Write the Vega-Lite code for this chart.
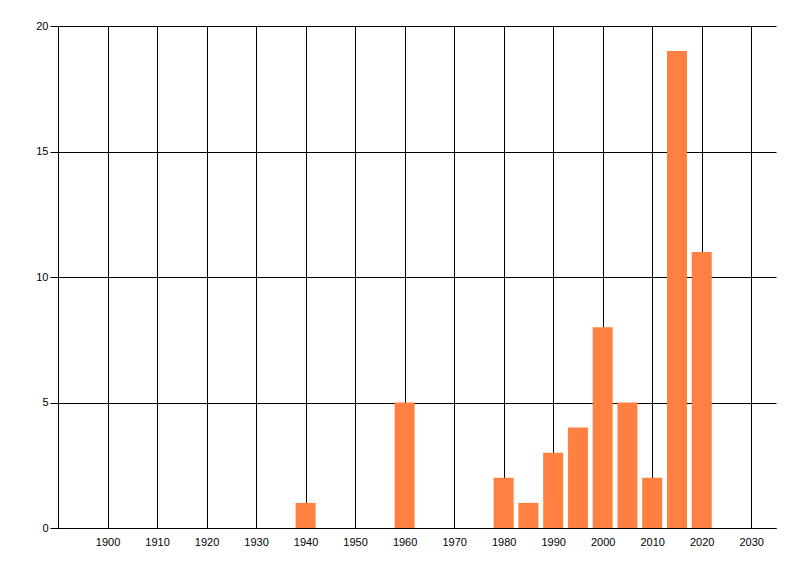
{
  "$schema": "https://vega.github.io/schema/vega-lite/v6.json",
  "description": "Count by year, bars every five years",
  "autosize": "none",
  "padding": {"left": 58, "top": 26, "right": 24, "bottom": 48},
  "width": 718,
  "height": 502,
  "background": "white",
  "config": {
    "view": {"stroke": null},
    "axis": {
      "labelFont": "Liberation Sans",
      "labelFontSize": 11,
      "labelColor": "black",
      "domainColor": "black",
      "tickColor": "black",
      "gridColor": "black",
      "gridOpacity": 1,
      "gridWidth": 1,
      "domainWidth": 1,
      "title": null
    }
  },
  "data": {
    "values": [
      {"year": 1940, "count": 1},
      {"year": 1960, "count": 5},
      {"year": 1980, "count": 2},
      {"year": 1985, "count": 1},
      {"year": 1990, "count": 3},
      {"year": 1995, "count": 4},
      {"year": 2000, "count": 8},
      {"year": 2005, "count": 5},
      {"year": 2010, "count": 2},
      {"year": 2015, "count": 19},
      {"year": 2020, "count": 11}
    ]
  },
  "mark": {"type": "bar", "size": 20, "color": "#FF8040"},
  "encoding": {
    "x": {
      "field": "year", "type": "quantitative",
      "scale": {"domain": [1890, 2035], "nice": false, "zero": false, "padding": 0},
      "axis": {
        "values": [1900, 1910, 1920, 1930, 1940, 1950, 1960, 1970, 1980, 1990, 2000, 2010, 2020, 2030],
        "format": "d",
        "ticks": false,
        "labelPadding": 8,
        "labelFlush": false,
        "labelOverlap": false
      }
    },
    "y": {
      "field": "count", "type": "quantitative",
      "scale": {"domain": [0, 20], "nice": false},
      "axis": {
        "values": [0, 5, 10, 15, 20],
        "tickSize": 8,
        "labelPadding": 2,
        "labelFlush": false
      }
    }
  }
}
